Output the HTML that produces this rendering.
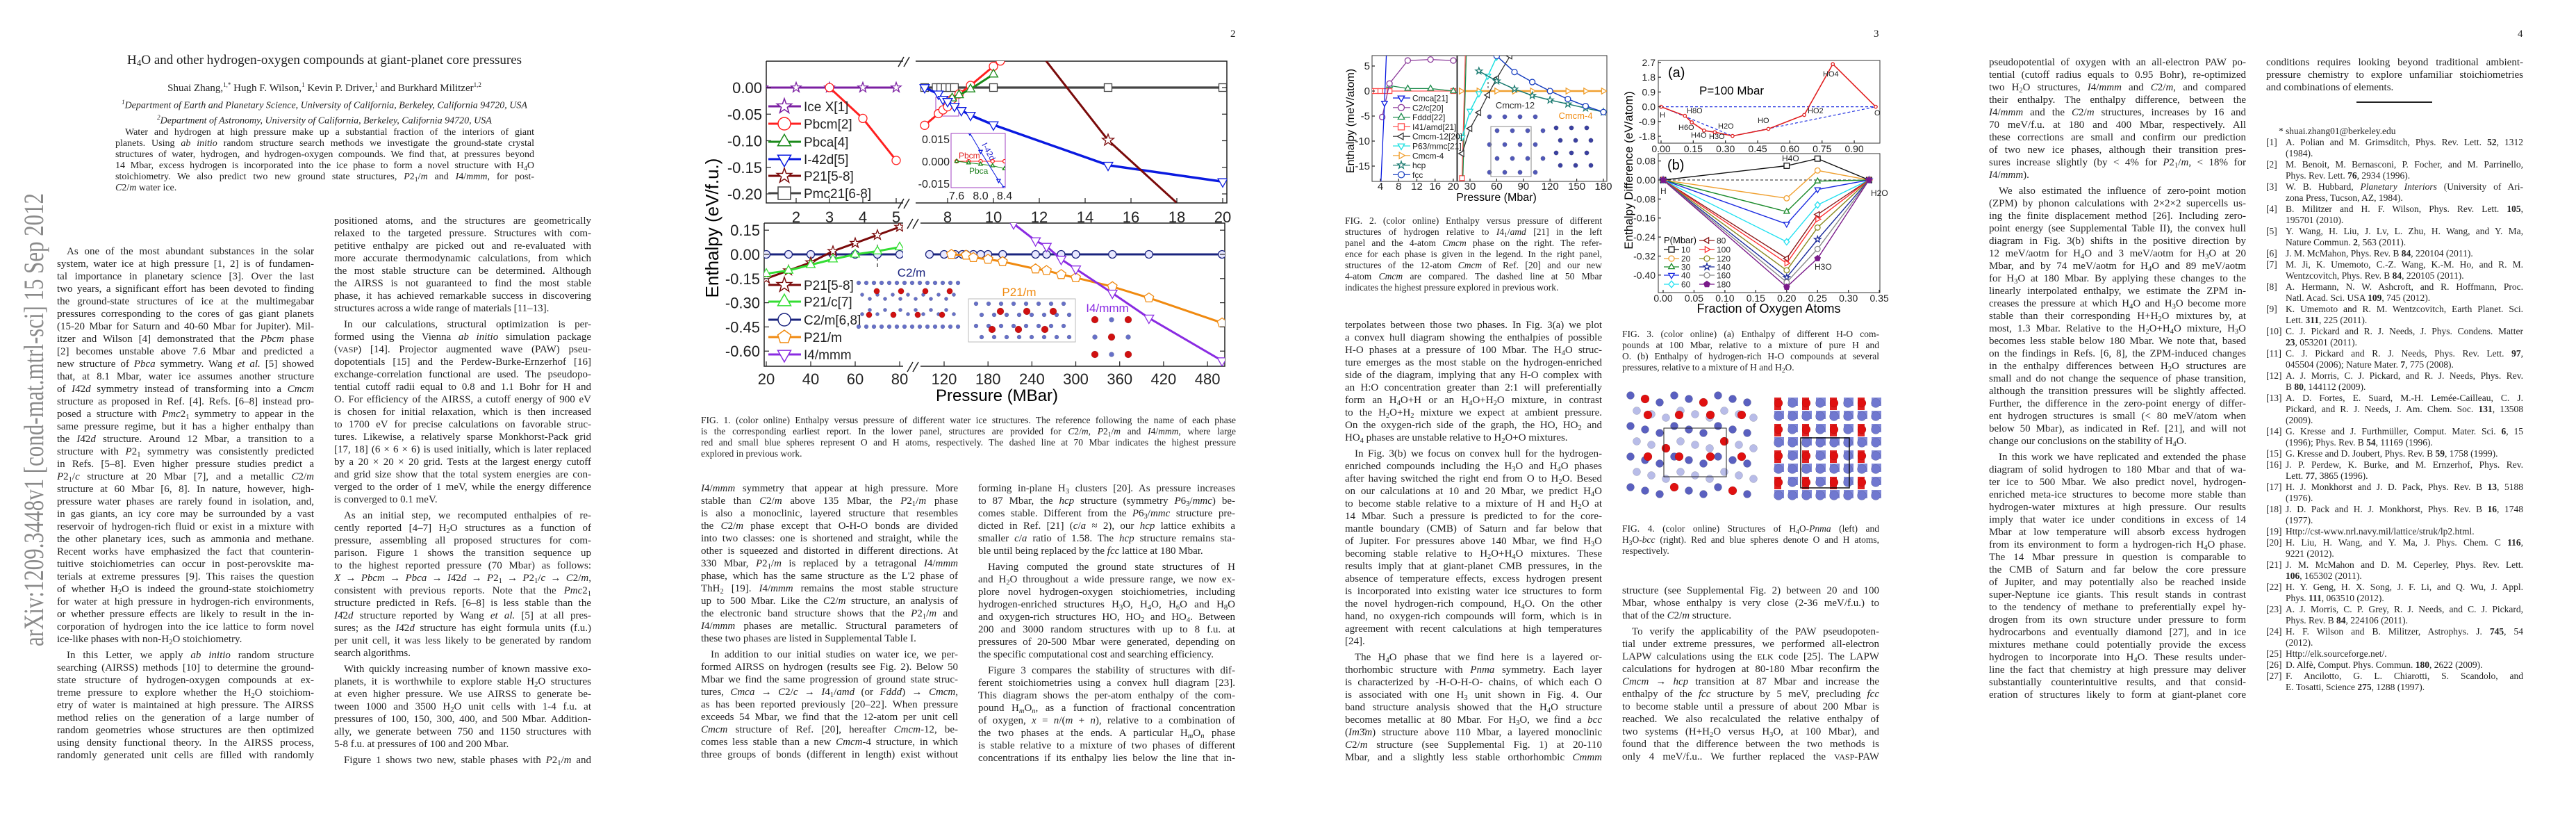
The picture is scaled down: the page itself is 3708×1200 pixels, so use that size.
<!DOCTYPE html>
<html><head><meta charset="utf-8">
<style>
html,body{margin:0;padding:0;background:#fff}
body{width:3708px;height:1200px;position:relative;overflow:hidden;font-family:"Liberation Serif",serif;color:#222}
.col{position:absolute;width:370px;font-size:15px;line-height:18px}
.col>div{height:18px;overflow:hidden;text-align:justify;text-align-last:justify}
.col>div.l{text-align-last:left}
.col>div.i{text-indent:14px}
.col>div.p{margin-top:5px}
.cap{position:absolute;font-size:13.5px;line-height:16px}
.cap>div{height:16px;overflow:hidden;text-align:justify;text-align-last:justify}
.cap>div.l{text-align-last:left}
sub{font-size:70%;vertical-align:-3px;line-height:0}
.pn{position:absolute;top:41px;font-size:15px}
.refs{position:absolute;width:370px;font-size:13.5px;line-height:16px}
.refs>div{height:16px;overflow:hidden;padding-left:28px;position:relative;text-align:justify;text-align-last:justify}
.refs>div.l{text-align-last:left}
.refs .n{position:absolute;left:0;top:0}
svg text{font-family:"Liberation Sans",sans-serif}
</style></head><body>

<!-- PAGE 1 -->
<svg style="position:absolute;left:0;top:0" width="90" height="1200">
<text x="0" y="0" transform="translate(62,930) rotate(-90)" font-family="Liberation Serif" font-size="40" fill="#8a8a8a" textLength="652" lengthAdjust="spacingAndGlyphs" style="font-family:'Liberation Serif',serif">arXiv:1209.3448v1  [cond-mat.mtrl-sci]  15 Sep 2012</text>
</svg>
<div style="position:absolute;left:0;width:934px;top:76px;text-align:center;font-size:19px">H<sub>4</sub>O and other hydrogen-oxygen compounds at giant-planet core pressures</div>
<div style="position:absolute;left:0;width:934px;top:117px;text-align:center;font-size:15px">Shuai Zhang,<sup style="font-size:9px">1,*</sup> Hugh F. Wilson,<sup style="font-size:9px">1</sup> Kevin P. Driver,<sup style="font-size:9px">1</sup> and Burkhard Militzer<sup style="font-size:9px">1,2</sup></div>
<div style="position:absolute;left:0;width:934px;top:139px;text-align:center;font-size:14px;line-height:16px;font-style:italic"><sup style="font-size:9px">1</sup>Department of Earth and Planetary Science, University of California, Berkeley, California 94720, USA<br><sup style="font-size:9px">2</sup>Department of Astronomy, University of California, Berkeley, California 94720, USA</div>
<div class="cap" style="left:166px;top:183px;width:603px;font-size:14px">
<div style="text-indent:14px">Water and hydrogen at high pressure make up a substantial fraction of the interiors of giant</div>
<div>planets. Using <i>ab initio</i> random structure search methods we investigate the ground-state crystal</div>
<div>structures of water, hydrogen, and hydrogen-oxygen compounds. We find that, at pressures beyond</div>
<div>14 Mbar, excess hydrogen is incorporated into the ice phase to form a novel structure with H<sub>4</sub>O</div>
<div>stoichiometry. We also predict two new ground state structures, <i>P</i>2<sub>1</sub>/<i>m</i> and <i>I</i>4/<i>mmm</i>, for post-</div>
<div class="l"><i>C</i>2/<i>m</i> water ice.</div>
</div>

<div class="col" style="left:82px;top:353px">
<div class="i">As one of the most abundant substances in the solar</div>
<div>system, water ice at high pressure [1, 2] is of fundamen-</div>
<div>tal importance in planetary science [3]. Over the last</div>
<div>two years, a significant effort has been devoted to finding</div>
<div>the ground-state structures of ice at the multimegabar</div>
<div>pressures corresponding to the cores of gas giant planets</div>
<div>(15-20 Mbar for Saturn and 40-60 Mbar for Jupiter). Mil-</div>
<div>itzer and Wilson [4] demonstrated that the <i>Pbcm</i> phase</div>
<div>[2] becomes unstable above 7.6 Mbar and predicted a</div>
<div>new structure of <i>Pbca</i> symmetry. Wang <i>et al.</i> [5] showed</div>
<div>that, at 8.1 Mbar, water ice assumes another structure</div>
<div>of <i>I</i>4̄2<i>d</i> symmetry instead of transforming into a <i>Cmcm</i></div>
<div>structure as proposed in Ref. [4]. Refs. [6–8] instead pro-</div>
<div>posed a structure with <i>Pmc</i>2<sub>1</sub> symmetry to appear in the</div>
<div>same pressure regime, but it has a higher enthalpy than</div>
<div>the <i>I</i>4̄2<i>d</i> structure. Around 12 Mbar, a transition to a</div>
<div>structure with <i>P</i>2<sub>1</sub> symmetry was consistently predicted</div>
<div>in Refs. [5–8]. Even higher pressure studies predict a</div>
<div><i>P</i>2<sub>1</sub>/<i>c</i> structure at 20 Mbar [7], and a metallic <i>C</i>2/<i>m</i></div>
<div>structure at 60 Mbar [6, 8]. In nature, however, high-</div>
<div>pressure water phases are rarely found in isolation, and,</div>
<div>in gas giants, an icy core may be surrounded by a vast</div>
<div>reservoir of hydrogen-rich fluid or exist in a mixture with</div>
<div>the other planetary ices, such as ammonia and methane.</div>
<div>Recent works have emphasized the fact that counterin-</div>
<div>tuitive stoichiometries can occur in post-perovskite ma-</div>
<div>terials at extreme pressures [9]. This raises the question</div>
<div>of whether H<sub>2</sub>O is indeed the ground-state stoichiometry</div>
<div>for water at high pressure in hydrogen-rich environments,</div>
<div>or whether pressure effects are likely to result in the in-</div>
<div>corporation of hydrogen into the ice lattice to form novel</div>
<div class="l">ice-like phases with non-H<sub>2</sub>O stoichiometry.</div>
<div class="i p">In this Letter, we apply <i>ab initio</i> random structure</div>
<div>searching (AIRSS) methods [10] to determine the ground-</div>
<div>state structure of hydrogen-oxygen compounds at ex-</div>
<div>treme pressure to explore whether the H<sub>2</sub>O stoichiom-</div>
<div>etry of water is maintained at high pressure. The AIRSS</div>
<div>method relies on the generation of a large number of</div>
<div>random geometries whose structures are then optimized</div>
<div>using density functional theory. In the AIRSS process,</div>
<div>randomly generated unit cells are filled with randomly</div>
</div>

<div class="col" style="left:481px;top:309px">
<div>positioned atoms, and the structures are geometrically</div>
<div>relaxed to the targeted pressure. Structures with com-</div>
<div>petitive enthalpy are picked out and re-evaluated with</div>
<div>more accurate thermodynamic calculations, from which</div>
<div>the most stable structure can be determined. Although</div>
<div>the AIRSS is not guaranteed to find the most stable</div>
<div>phase, it has achieved remarkable success in discovering</div>
<div class="l">structures across a wide range of materials [11–13].</div>
<div class="i p">In our calculations, structural optimization is per-</div>
<div>formed using the Vienna <i>ab initio</i> simulation package</div>
<div>(<span style="font-size:12px">VASP</span>) [14]. Projector augmented wave (PAW) pseu-</div>
<div>dopotentials [15] and the Perdew-Burke-Ernzerhof [16]</div>
<div>exchange-correlation functional are used. The pseudopo-</div>
<div>tential cutoff radii equal to 0.8 and 1.1 Bohr for H and</div>
<div>O. For efficiency of the AIRSS, a cutoff energy of 900 eV</div>
<div>is chosen for initial relaxation, which is then increased</div>
<div>to 1700 eV for precise calculations on favorable struc-</div>
<div>tures. Likewise, a relatively sparse Monkhorst-Pack grid</div>
<div>[17, 18] (6 × 6 × 6) is used initially, which is later replaced</div>
<div>by a 20 × 20 × 20 grid. Tests at the largest energy cutoff</div>
<div>and grid size show that the total system energies are con-</div>
<div>verged to the order of 1 meV, while the energy difference</div>
<div class="l">is converged to 0.1 meV.</div>
<div class="i p">As an initial step, we recomputed enthalpies of re-</div>
<div>cently reported [4–7] H<sub>2</sub>O structures as a function of</div>
<div>pressure, assembling all proposed structures for com-</div>
<div>parison. Figure 1 shows the transition sequence up</div>
<div>to the highest reported pressure (70 Mbar) as follows:</div>
<div><i>X</i> → <i>Pbcm</i> → <i>Pbca</i> → <i>I</i>4̄2<i>d</i> → <i>P</i>2<sub>1</sub> → <i>P</i>2<sub>1</sub>/<i>c</i> → <i>C</i>2/<i>m</i>,</div>
<div>consistent with previous reports. Note that the <i>Pmc</i>2<sub>1</sub></div>
<div>structure predicted in Refs. [6–8] is less stable than the</div>
<div><i>I</i>4̄2<i>d</i> structure reported by Wang <i>et al.</i> [5] at all pres-</div>
<div>sures; as the <i>I</i>4̄2<i>d</i> structure has eight formula units (f.u.)</div>
<div>per unit cell, it was less likely to be generated by random</div>
<div class="l">search algorithms.</div>
<div class="i p">With quickly increasing number of known massive exo-</div>
<div>planets, it is worthwhile to explore stable H<sub>2</sub>O structures</div>
<div>at even higher pressure. We use AIRSS to generate be-</div>
<div>tween 1000 and 3500 H<sub>2</sub>O unit cells with 1-4 f.u. at</div>
<div>pressures of 100, 150, 300, 400, and 500 Mbar. Addition-</div>
<div>ally, we generate between 750 and 1150 structures with</div>
<div class="l">5-8 f.u. at pressures of 100 and 200 Mbar.</div>
<div class="i p">Figure 1 shows two new, stable phases with <i>P</i>2<sub>1</sub>/<i>m</i> and</div>
</div>

<!-- PAGE 2 -->
<div class="pn" style="left:1771px">2</div>
<div class="cap" style="left:1009px;top:597px;width:770px">
<div>FIG. 1. (color online) Enthalpy versus pressure of different water ice structures. The reference following the name of each phase</div>
<div>is the corresponding earliest report. In the lower panel, structures are provided for <i>C</i>2/<i>m</i>, <i>P</i>2<sub>1</sub>/<i>m</i> and <i>I</i>4/<i>mmm</i>, where large</div>
<div>red and small blue spheres represent O and H atoms, respectively. The dashed line at 70 Mbar indicates the highest pressure</div>
<div class="l">explored in previous work.</div>
</div>
<div class="col" style="left:1009px;top:694px">
<div><i>I</i>4/<i>mmm</i> symmetry that appear at high pressure. More</div>
<div>stable than <i>C</i>2/<i>m</i> above 135 Mbar, the <i>P</i>2<sub>1</sub>/<i>m</i> phase</div>
<div>is also a monoclinic, layered structure that resembles</div>
<div>the <i>C</i>2/<i>m</i> phase except that O-H-O bonds are divided</div>
<div>into two classes: one is shortened and straight, while the</div>
<div>other is squeezed and distorted in different directions. At</div>
<div>330 Mbar, <i>P</i>2<sub>1</sub>/<i>m</i> is replaced by a tetragonal <i>I</i>4/<i>mmm</i></div>
<div>phase, which has the same structure as the L'2 phase of</div>
<div>ThH<sub>2</sub> [19]. <i>I</i>4/<i>mmm</i> remains the most stable structure</div>
<div>up to 500 Mbar. Like the <i>C</i>2/<i>m</i> structure, an analysis of</div>
<div>the electronic band structure shows that the <i>P</i>2<sub>1</sub>/<i>m</i> and</div>
<div><i>I</i>4/<i>mmm</i> phases are metallic. Structural parameters of</div>
<div class="l">these two phases are listed in Supplemental Table I.</div>
<div class="i p">In addition to our initial studies on water ice, we per-</div>
<div>formed AIRSS on hydrogen (results see Fig. 2). Below 50</div>
<div>Mbar we find the same progression of ground state struc-</div>
<div>tures, <i>Cmca</i> → <i>C</i>2/<i>c</i> → <i>I</i>4<sub>1</sub>/<i>amd</i> (or <i>Fddd</i>) → <i>Cmcm</i>,</div>
<div>as has been reported previously [20–22]. When pressure</div>
<div>exceeds 54 Mbar, we find that the 12-atom per unit cell</div>
<div><i>Cmcm</i> structure of Ref. [20], hereafter <i>Cmcm</i>-12, be-</div>
<div>comes less stable than a new <i>Cmcm</i>-4 structure, in which</div>
<div>three groups of bonds (different in length) exist without</div>
</div>
<div class="col" style="left:1408px;top:694px">
<div>forming in-plane H<sub>3</sub> clusters [20]. As pressure increases</div>
<div>to 87 Mbar, the <i>hcp</i> structure (symmetry <i>P</i>6<sub>3</sub>/<i>mmc</i>) be-</div>
<div>comes stable. Different from the <i>P</i>6<sub>3</sub>/<i>mmc</i> structure pre-</div>
<div>dicted in Ref. [21] (<i>c</i>/<i>a</i> ≈ 2), our <i>hcp</i> lattice exhibits a</div>
<div>smaller <i>c</i>/<i>a</i> ratio of 1.58. The <i>hcp</i> structure remains sta-</div>
<div class="l">ble until being replaced by the <i>fcc</i> lattice at 180 Mbar.</div>
<div class="i p">Having computed the ground state structures of H</div>
<div>and H<sub>2</sub>O throughout a wide pressure range, we now ex-</div>
<div>plore novel hydrogen-oxygen stoichiometries, including</div>
<div>hydrogen-enriched structures H<sub>3</sub>O, H<sub>4</sub>O, H<sub>6</sub>O and H<sub>8</sub>O</div>
<div>and oxygen-rich structures HO, HO<sub>2</sub> and HO<sub>4</sub>. Between</div>
<div>200 and 3000 random structures with up to 8 f.u. at</div>
<div>pressures of 20-500 Mbar were generated, depending on</div>
<div class="l">the specific computational cost and searching efficiency.</div>
<div class="i p">Figure 3 compares the stability of structures with dif-</div>
<div>ferent stoichiometries using a convex hull diagram [23].</div>
<div>This diagram shows the per-atom enthalpy of the com-</div>
<div>pound H<sub><i>m</i></sub>O<sub><i>n</i></sub>, as a function of fractional concentration</div>
<div>of oxygen, <i>x</i> = <i>n</i>/(<i>m</i> + <i>n</i>), relative to a combination of</div>
<div>the two phases at the ends. A particular H<sub><i>m</i></sub>O<sub><i>n</i></sub> phase</div>
<div>is stable relative to a mixture of two phases of different</div>
<div>concentrations if its enthalpy lies below the line that in-</div>
</div>

<!-- PAGE 3 -->
<div class="pn" style="left:2697px">3</div>
<div class="cap" style="left:1936px;top:310px;width:370px">
<div>FIG. 2. (color online) Enthalpy versus pressure of different</div>
<div>structures of hydrogen relative to <i>I</i>4<sub>1</sub>/<i>amd</i> [21] in the left</div>
<div>panel and the 4-atom <i>Cmcm</i> phase on the right. The refer-</div>
<div>ence for each phase is given in the legend. In the right panel,</div>
<div>structures of the 12-atom <i>Cmcm</i> of Ref. [20] and our new</div>
<div>4-atom <i>Cmcm</i> are compared. The dashed line at 50 Mbar</div>
<div class="l">indicates the highest pressure explored in previous work.</div>
</div>
<div class="cap" style="left:2335px;top:473px;width:370px">
<div>FIG. 3. (color online) (a) Enthalpy of different H-O com-</div>
<div>pounds at 100 Mbar, relative to a mixture of pure H and</div>
<div>O. (b) Enthalpy of hydrogen-rich H-O compounds at several</div>
<div class="l">pressures, relative to a mixture of H and H<sub>2</sub>O.</div>
</div>
<div class="cap" style="left:2335px;top:753px;width:370px">
<div>FIG. 4. (color online) Structures of H<sub>4</sub>O-<i>Pnma</i> (left) and</div>
<div>H<sub>3</sub>O-<i>bcc</i> (right). Red and blue spheres denote O and H atoms,</div>
<div class="l">respectively.</div>
</div>
<div class="col" style="left:1936px;top:459px">
<div>terpolates between those two phases. In Fig. 3(a) we plot</div>
<div>a convex hull diagram showing the enthalpies of possible</div>
<div>H-O phases at a pressure of 100 Mbar. The H<sub>4</sub>O struc-</div>
<div>ture emerges as the most stable on the hydrogen-enriched</div>
<div>side of the diagram, implying that any H-O complex with</div>
<div>an H:O concentration greater than 2:1 will preferentially</div>
<div>form an H<sub>4</sub>O+H or an H<sub>4</sub>O+H<sub>2</sub>O mixture, in contrast</div>
<div>to the H<sub>2</sub>O+H<sub>2</sub> mixture we expect at ambient pressure.</div>
<div>On the oxygen-rich side of the graph, the HO, HO<sub>2</sub> and</div>
<div class="l">HO<sub>4</sub> phases are unstable relative to H<sub>2</sub>O+O mixtures.</div>
<div class="i p">In Fig. 3(b) we focus on convex hull for the hydrogen-</div>
<div>enriched compounds including the H<sub>3</sub>O and H<sub>4</sub>O phases</div>
<div>after having switched the right end from O to H<sub>2</sub>O. Besed</div>
<div>on our calculations at 10 and 20 Mbar, we predict H<sub>4</sub>O</div>
<div>to become stable relative to a mixture of H and H<sub>2</sub>O at</div>
<div>14 Mbar. Such a pressure is predicted to for the core-</div>
<div>mantle boundary (CMB) of Saturn and far below that</div>
<div>of Jupiter. For pressures above 140 Mbar, we find H<sub>3</sub>O</div>
<div>becoming stable relative to H<sub>2</sub>O+H<sub>4</sub>O mixtures. These</div>
<div>results imply that at giant-planet CMB pressures, in the</div>
<div>absence of temperature effects, excess hydrogen present</div>
<div>is incorporated into existing water ice structures to form</div>
<div>the novel hydrogen-rich compound, H<sub>4</sub>O. On the other</div>
<div>hand, no oxygen-rich compounds will form, which is in</div>
<div>agreement with recent calculations at high temperatures</div>
<div class="l">[24].</div>
<div class="i p">The H<sub>4</sub>O phase that we find here is a layered or-</div>
<div>thorhombic structure with <i>Pnma</i> symmetry. Each layer</div>
<div>is characterized by -H-O-H-O- chains, of which each O</div>
<div>is associated with one H<sub>3</sub> unit shown in Fig. 4. Our</div>
<div>band structure analysis showed that the H<sub>4</sub>O structure</div>
<div>becomes metallic at 80 Mbar. For H<sub>3</sub>O, we find a <i>bcc</i></div>
<div>(<i>Im</i>3̄<i>m</i>) structure above 110 Mbar, a layered monoclinic</div>
<div><i>C</i>2/<i>m</i> structure (see Supplemental Fig. 1) at 20-110</div>
<div>Mbar, and a slightly less stable orthorhombic <i>Cmmm</i></div>
</div>
<div class="col" style="left:2335px;top:841px">
<div>structure (see Supplemental Fig. 2) between 20 and 100</div>
<div>Mbar, whose enthalpy is very close (2-36 meV/f.u.) to</div>
<div class="l">that of the <i>C</i>2/<i>m</i> structure.</div>
<div class="i p">To verify the applicability of the PAW pseudopoten-</div>
<div>tial under extreme pressures, we performed all-electron</div>
<div>LAPW calculations using the <span style="font-size:12px">ELK</span> code [25]. The LAPW</div>
<div>calculations for hydrogen at 80-180 Mbar reconfirm the</div>
<div><i>Cmcm</i> → <i>hcp</i> transition at 87 Mbar and increase the</div>
<div>enthalpy of the <i>fcc</i> structure by 5 meV, precluding <i>fcc</i></div>
<div>to become stable until a pressure of about 200 Mbar is</div>
<div>reached. We also recalculated the relative enthalpy of</div>
<div>two systems (H+H<sub>2</sub>O versus H<sub>3</sub>O, at 100 Mbar), and</div>
<div>found that the difference between the two methods is</div>
<div>only 4 meV/f.u.. We further replaced the <span style="font-size:12px">VASP</span>-PAW</div>
</div>

<!-- PAGE 4 -->
<div class="pn" style="left:3624px">4</div>
<div class="col" style="left:2863px;top:81px">
<div>pseudopotential of oxygen with an all-electron PAW po-</div>
<div>tential (cutoff radius equals to 0.95 Bohr), re-optimized</div>
<div>two H<sub>2</sub>O structures, <i>I</i>4/<i>mmm</i> and <i>C</i>2/<i>m</i>, and compared</div>
<div>their enthalpy. The enthalpy difference, between the</div>
<div><i>I</i>4/<i>mmm</i> and the <i>C</i>2/<i>m</i> structures, increases by 16 and</div>
<div>70 meV/f.u. at 180 and 400 Mbar, respectively. All</div>
<div>these corrections are small and confirm our prediction</div>
<div>of two new ice phases, although their transition pres-</div>
<div>sures increase slightly (by &lt; 4% for <i>P</i>2<sub>1</sub>/<i>m</i>, &lt; 18% for</div>
<div class="l"><i>I</i>4/<i>mmm</i>).</div>
<div class="i p">We also estimated the influence of zero-point motion</div>
<div>(ZPM) by phonon calculations with 2×2×2 supercells us-</div>
<div>ing the finite displacement method [26]. Including zero-</div>
<div>point energy (see Supplemental Table II), the convex hull</div>
<div>diagram in Fig. 3(b) shifts in the positive direction by</div>
<div>12 meV/aotm for H<sub>4</sub>O and 3 meV/aotm for H<sub>3</sub>O at 20</div>
<div>Mbar, and by 74 meV/aotm for H<sub>4</sub>O and 89 meV/aotm</div>
<div>for H<sub>3</sub>O at 180 Mbar. By applying these changes to the</div>
<div>linearly interpolated enthalpy, we estimate the ZPM in-</div>
<div>creases the pressure at which H<sub>4</sub>O and H<sub>3</sub>O become more</div>
<div>stable than their corresponding H+H<sub>2</sub>O mixtures by, at</div>
<div>most, 1.3 Mbar. Relative to the H<sub>2</sub>O+H<sub>4</sub>O mixture, H<sub>3</sub>O</div>
<div>becomes less stable below 180 Mbar. We note that, based</div>
<div>on the findings in Refs. [6, 8], the ZPM-induced changes</div>
<div>in the enthalpy differences between H<sub>2</sub>O structures are</div>
<div>small and do not change the sequence of phase transition,</div>
<div>although the transition pressures will be slightly affected.</div>
<div>Further, the difference in the zero-point energy of differ-</div>
<div>ent hydrogen structures is small (&lt; 80 meV/atom when</div>
<div>below 50 Mbar), as indicated in Ref. [21], and will not</div>
<div class="l">change our conclusions on the stability of H<sub>4</sub>O.</div>
<div class="i p">In this work we have replicated and extended the phase</div>
<div>diagram of solid hydrogen to 180 Mbar and that of wa-</div>
<div>ter ice to 500 Mbar. We also predict novel, hydrogen-</div>
<div>enriched meta-ice structures to become more stable than</div>
<div>hydrogen-water mixtures at high pressure. Our results</div>
<div>imply that water ice under conditions in excess of 14</div>
<div>Mbar at low temperature will absorb excess hydrogen</div>
<div>from its environment to form a hydrogen-rich H<sub>4</sub>O phase.</div>
<div>The 14 Mbar pressure in question is comparable to</div>
<div>the CMB of Saturn and far below the core pressure</div>
<div>of Jupiter, and may potentially also be reached inside</div>
<div>super-Neptune ice giants. This result stands in contrast</div>
<div>to the tendency of methane to preferentially expel hy-</div>
<div>drogen from its own structure under pressure to form</div>
<div>hydrocarbons and eventually diamond [27], and in ice</div>
<div>mixtures methane could potentially provide the excess</div>
<div>hydrogen to incorporate into H<sub>4</sub>O. These results under-</div>
<div>line the fact that chemistry at high pressure may deliver</div>
<div>substantially counterintuitive results, and that consid-</div>
<div>eration of structures likely to form at giant-planet core</div>
</div>
<div class="col" style="left:3262px;top:81px">
<div>conditions requires looking beyond traditional ambient-</div>
<div>pressure chemistry to explore unfamiliar stoichiometries</div>
<div class="l">and combinations of elements.</div>
</div>
<div style="position:absolute;left:3392px;top:146px;width:109px;height:2px;background:#222"></div>
<div class="refs" style="left:3262px;top:181px">
<div class="l"><span class="n" style="left:18px">*</span>shuai.zhang01@berkeley.edu</div>
<div><span class="n">[1]</span>A. Polian and M. Grimsditch, Phys. Rev. Lett. <b>52</b>, 1312</div>
<div class="l">(1984).</div>
<div><span class="n">[2]</span>M. Benoit, M. Bernasconi, P. Focher, and M. Parrinello,</div>
<div class="l">Phys. Rev. Lett. <b>76</b>, 2934 (1996).</div>
<div><span class="n">[3]</span>W. B. Hubbard, <i>Planetary Interiors</i> (University of Ari-</div>
<div class="l">zona Press, Tucson, AZ, 1984).</div>
<div><span class="n">[4]</span>B. Militzer and H. F. Wilson, Phys. Rev. Lett. <b>105</b>,</div>
<div class="l">195701 (2010).</div>
<div><span class="n">[5]</span>Y. Wang, H. Liu, J. Lv, L. Zhu, H. Wang, and Y. Ma,</div>
<div class="l">Nature Commun. <b>2</b>, 563 (2011).</div>
<div class="l"><span class="n">[6]</span>J. M. McMahon, Phys. Rev. B <b>84</b>, 220104 (2011).</div>
<div><span class="n">[7]</span>M. Ji, K. Umemoto, C.-Z. Wang, K.-M. Ho, and R. M.</div>
<div class="l">Wentzcovitch, Phys. Rev. B <b>84</b>, 220105 (2011).</div>
<div><span class="n">[8]</span>A. Hermann, N. W. Ashcroft, and R. Hoffmann, Proc.</div>
<div class="l">Natl. Acad. Sci. USA <b>109</b>, 745 (2012).</div>
<div><span class="n">[9]</span>K. Umemoto and R. M. Wentzcovitch, Earth Planet. Sci.</div>
<div class="l">Lett. <b>311</b>, 225 (2011).</div>
<div><span class="n">[10]</span>C. J. Pickard and R. J. Needs, J. Phys. Condens. Matter</div>
<div class="l"><b>23</b>, 053201 (2011).</div>
<div><span class="n">[11]</span>C. J. Pickard and R. J. Needs, Phys. Rev. Lett. <b>97</b>,</div>
<div class="l">045504 (2006); Nature Mater. <b>7</b>, 775 (2008).</div>
<div><span class="n">[12]</span>A. J. Morris, C. J. Pickard, and R. J. Needs, Phys. Rev.</div>
<div class="l">B <b>80</b>, 144112 (2009).</div>
<div><span class="n">[13]</span>A. D. Fortes, E. Suard, M.-H. Lemée-Cailleau, C. J.</div>
<div>Pickard, and R. J. Needs, J. Am. Chem. Soc. <b>131</b>, 13508</div>
<div class="l">(2009).</div>
<div><span class="n">[14]</span>G. Kresse and J. Furthmüller, Comput. Mater. Sci. <b>6</b>, 15</div>
<div class="l">(1996); Phys. Rev. B <b>54</b>, 11169 (1996).</div>
<div class="l"><span class="n">[15]</span>G. Kresse and D. Joubert, Phys. Rev. B <b>59</b>, 1758 (1999).</div>
<div><span class="n">[16]</span>J. P. Perdew, K. Burke, and M. Ernzerhof, Phys. Rev.</div>
<div class="l">Lett. <b>77</b>, 3865 (1996).</div>
<div><span class="n">[17]</span>H. J. Monkhorst and J. D. Pack, Phys. Rev. B <b>13</b>, 5188</div>
<div class="l">(1976).</div>
<div><span class="n">[18]</span>J. D. Pack and H. J. Monkhorst, Phys. Rev. B <b>16</b>, 1748</div>
<div class="l">(1977).</div>
<div class="l"><span class="n">[19]</span>Http://cst-www.nrl.navy.mil/lattice/struk/lp2.html.</div>
<div><span class="n">[20]</span>H. Liu, H. Wang, and Y. Ma, J. Phys. Chem. C <b>116</b>,</div>
<div class="l">9221 (2012).</div>
<div><span class="n">[21]</span>J. M. McMahon and D. M. Ceperley, Phys. Rev. Lett.</div>
<div class="l"><b>106</b>, 165302 (2011).</div>
<div><span class="n">[22]</span>H. Y. Geng, H. X. Song, J. F. Li, and Q. Wu, J. Appl.</div>
<div class="l">Phys. <b>111</b>, 063510 (2012).</div>
<div><span class="n">[23]</span>A. J. Morris, C. P. Grey, R. J. Needs, and C. J. Pickard,</div>
<div class="l">Phys. Rev. B <b>84</b>, 224106 (2011).</div>
<div><span class="n">[24]</span>H. F. Wilson and B. Militzer, Astrophys. J. <b>745</b>, 54</div>
<div class="l">(2012).</div>
<div class="l"><span class="n">[25]</span>Http://elk.sourceforge.net/.</div>
<div class="l"><span class="n">[26]</span>D. Alfè, Comput. Phys. Commun. <b>180</b>, 2622 (2009).</div>
<div><span class="n">[27]</span>F. Ancilotto, G. L. Chiarotti, S. Scandolo, and</div>
<div class="l">E. Tosatti, Science <b>275</b>, 1288 (1997).</div>
</div>

<!-- CHARTS -->
<svg id="charts" width="3708" height="1200" style="position:absolute;left:0;top:0">
<defs>
<clipPath id="cU1"><rect x="1103" y="88" width="196" height="204"/></clipPath>
<clipPath id="cU2"><rect x="1310" y="88" width="456" height="204"/></clipPath>
<clipPath id="cL1"><rect x="1100" y="321" width="200" height="206"/></clipPath>
<clipPath id="cL2"><rect x="1325" y="321" width="438" height="206"/></clipPath>
<clipPath id="cIn"><rect x="1369" y="192" width="78" height="78"/></clipPath>
<clipPath id="cF2L"><rect x="1975" y="80" width="122" height="181"/></clipPath>
<clipPath id="cF2R"><rect x="2098" y="80" width="215" height="181"/></clipPath>
<clipPath id="cF3a"><rect x="2387" y="87" width="319" height="119"/></clipPath>
<clipPath id="cF3b"><rect x="2387" y="221" width="319" height="200"/></clipPath>
</defs>
<g fill="none" stroke="#222" stroke-width="1.5">
<path d="M1103 88 H1300 M1318 88 H1766 V292 H1318 M1300 292 H1103 V88"/>
<path d="M1100 321 H1300 M1325 321 H1763 V527 H1325 M1300 527 H1100 V321"/>
<path d="M1293 96 l8 -14 M1301 96 l8 -14 M1293 300 l8 -14 M1301 300 l8 -14 M1306 329 l8 -14 M1314 329 l8 -14 M1306 535 l8 -14 M1314 535 l8 -14"/>
<rect x="1369" y="192" width="78" height="78" stroke="#a040c0" stroke-width="1"/>
<rect x="1347" y="140" width="33" height="27" stroke="#a040c0" stroke-width="1"/>
</g>
<text transform="translate(1034,328) rotate(-90)" text-anchor="middle" font-size="26">Enthalpy (eV/f.u.)</text>
<text x="1435" y="577" text-anchor="middle" font-size="24">Pressure (MBar)</text>
<text transform="translate(1413,208) rotate(62)" font-size="12" fill="#1a1ad0">I-42d</text>
<text x="1380" y="228" font-size="12" fill="#e02020">Pbcm</text>
<text x="1395" y="250" font-size="12" fill="#208020">Pbca</text>
<text x="1312" y="398" text-anchor="middle" font-size="17" fill="#1a237e">C2/m</text>
<text x="1467" y="426" text-anchor="middle" font-size="17" fill="#f08a10">P21/m</text>
<text x="1594" y="449" text-anchor="middle" font-size="17" fill="#8a2be2">I4/mmm</text>
<line x1="1263" y1="352" x2="1263" y2="386" stroke="#222" stroke-dasharray="5,4" stroke-width="1.2"/>

<g fill="none" stroke="#333" stroke-width="1">
<rect x="1975" y="80" width="122" height="181"/>
<rect x="2098" y="80" width="215" height="181"/>
</g>
<text transform="translate(1949,174) rotate(-90)" text-anchor="middle" font-size="16">Enthalpy (meV/atom)</text>
<text x="2154" y="289" text-anchor="middle" font-size="16">Pressure (Mbar)</text>
<text x="2181" y="156" text-anchor="middle" font-size="13" fill="#333">Cmcm-12</text>
<text x="2268" y="171" text-anchor="middle" font-size="13" fill="#f08a10">Cmcm-4</text>
<line x1="2142" y1="118" x2="2142" y2="140" stroke="#333" stroke-dasharray="3,3"/>

<g fill="none" stroke="#333" stroke-width="1">
<rect x="2387" y="87" width="319" height="119"/>
<rect x="2387" y="221" width="319" height="200"/>
</g>
<text transform="translate(2350,245) rotate(-90)" text-anchor="middle" font-size="17">Enthalpy Difference (eV/atom)</text>
<text x="2546" y="450" text-anchor="middle" font-size="18">Fraction of Oxygen Atoms</text>
<text x="2401" y="111" font-size="20">(a)</text>
<text x="2446" y="136" font-size="17">P=100 Mbar</text>
<text x="2400" y="244" font-size="20">(b)</text>
<text x="2395" y="350" font-size="13">P(Mbar)</text>
</svg>

<script>
// ===== Figure 1 data (upper panel) =====
const iceX_x=[1,2,3,4,5];
const iceX_y=[0,0,0,0,0];
const pbcmL_x=[3,4,5];
const pbcmL_y=[0,-0.058,-0.137];
const pbcmR_x=[7,7.6,7.8,8.0,8.2,8.5,9,10,10.3];
const pbcmR_y=[-0.071,-0.049,-0.042,-0.036,-0.022,-0.012,0.004,0.04,0.05];
const pbca_x=[8.2,8.5,9,10];
const pbca_y=[-0.02,-0.014,-0.003,0.025];
const i42d_x=[7,7.6,7.8,8.0,8.3,8.6,9,10,15,20];
const i42d_y=[0,-0.012,-0.022,-0.026,-0.035,-0.043,-0.052,-0.07,-0.146,-0.177];
const p21U_x=[12.3,15,18];
const p21U_y=[0.05,-0.099,-0.217];
const pmc21_x=[7,7.5,7.7,7.9,8.1,8.3,10,15,20];
const pmc21_y=[0,0,0,0,0,0,0,0,0];
const f1uYTicks=[0,-0.05,-0.10,-0.15,-0.20];
const f1uYLabels=['0.00','-0.05','-0.10','-0.15','-0.20'];
const f1uXTicksL=[2,3,4,5];
const f1uXTicksR=[8,10,12,14,16,18,20];
// inset
const inPbcm_x=[7.6,7.8,8.0,8.2,8.4];
const inPbcm_y=[0,0,0,0,0];
const inPbca_x=[7.6,7.8,8.0,8.2,8.4];
const inPbca_y=[0,-0.001,-0.002,-0.003,-0.005];
const inI42d_x=[7.82,8.0,8.3,8.4];
const inI42d_y=[0.019,0.0066,-0.013,-0.018];
const inYLabels=['0.015','0.000','-0.015'];
const inYTicks=[0.015,0,-0.015];
const inXTicks=[7.6,8.0,8.4];
// ===== Figure 1 data (lower panel) =====
const c2mL_x=[20,30,40,50,60,70,80];
const c2mL_y=[0,0,0,0,0,0,0];
const c2mR_x=[100,120,135,145,150,160,170,180,200,245,260,280,300,350,400,500];
const c2mR_y=[0,0,0,0,0,0,0,0,0,0,0,0,0,0,0,0];
const p21L_x=[20,30,40,50,60,70,80];
const p21L_y=[-0.15,-0.1,-0.05,0.02,0.07,0.12,0.17];
const p21c_x=[20,30,40,50,60,70,80];
const p21c_y=[-0.12,-0.1,-0.065,-0.03,0.0,0.02,0.045];
const p21m_x=[130,150,160,180,200,245,260,280,300,350,400,500];
const p21m_y=[0,-0.005,-0.02,-0.03,-0.045,-0.09,-0.1,-0.125,-0.145,-0.2,-0.27,-0.425];
const i4mmm_x=[215,245,260,280,300,350,400,500];
const i4mmm_y=[0.19,0.085,0.05,-0.03,-0.09,-0.24,-0.395,-0.66];
const f1lYTicks=[0.15,0,-0.15,-0.30,-0.45,-0.60];
const f1lYLabels=['0.15','0.00','-0.15','-0.30','-0.45','-0.60'];
const f1lXTicksL=[20,40,60,80];
const f1lXTicksR=[120,180,240,300,360,420,480];
// ===== Figure 2 data =====
const cmca_x=[4.1,4.9,5.4];
const cmca_y=[-18.5,-2.4,9.5];
const c2c_x=[4.4,6,10,15,20];
const c2c_y=[-5.2,1.5,6.1,6.3,6.1];
const fddd_x=[6,10,15,20];
const fddd_y=[1.1,0.5,0.5,0];
const i41L_x=[2,3,4,5,6,20];
const i41L_y=[0,0,0,0,0,0];
const i41R_x=[21,25];
const i41R_y=[-17.4,9];
const fdddR_x=[22,26];
const fdddR_y=[-17,9];
const p63_x=[21,30,40,50,60];
const p63_y=[-9.3,-4.0,-0.5,3,6.8];
const cmcm12_x=[21,30,40,50,60,75];
const cmcm12_y=[-12.5,-7.5,-4.3,-0.8,2.5,7];
const cmcm4_x=[20,40,60,80,100,120,140,160,180];
const cmcm4_y=[0,0,0,0,0,0,0,0,0];
const hcp_x=[40,60,80,100,120,140,160,180];
const hcp_y=[4,2,0.4,-0.9,-1.8,-2.6,-3.4,-4.2];
const fcc_x=[60,80,100,120,140,160,180];
const fcc_y=[7,3.8,1.8,0,-1.6,-3,-4.2];
const f2YTicks=[5,0,-5,-10,-15];
const f2XTicksL=[4,8,12,16,20];
const f2XTicksR=[30,60,90,120,150,180];
// ===== Figure 3 data =====
const f3a_x=[0,0.111,0.143,0.2,0.25,0.333,0.5,0.667,0.8,1];
const f3a_y=[0,-0.55,-0.95,-1.45,-1.55,-1.78,-1.35,-0.5,2.6,0];
const hull_x=[0,0.333,1];
const hull_y=[0,-1.78,0];
const f3aYTicks=[2.7,1.8,0.9,0.0,-0.9,-1.8];
const f3aYLabels=['2.7','1.8','0.9','0.0','-0.9','-1.8'];
const f3aXTicks=[0,0.15,0.3,0.45,0.6,0.75,0.9];
const f3aXLabels=['0.00','0.15','0.30','0.45','0.60','0.75','0.90'];
const frac_x=[0,0.2,0.25,0.3333];
const p10=[0,0.06,0.09,0];
const p20=[0,-0.077,0.04,0];
const p30=[0,-0.133,-0.005,0];
const p40=[0,-0.185,-0.04,0];
const p60=[0,-0.26,-0.105,0];
const p80=[0,-0.33,-0.145,0];
const p100=[0,-0.35,-0.165,0];
const p120=[0,-0.38,-0.2,0];
const p140=[0,-0.41,-0.25,0];
const p160=[0,-0.43,-0.29,0];
const p180=[0,-0.45,-0.33,0];
const pressures=['10','20','30','40','60','80','100','120','140','160','180'];
const f3bYTicks=[0.08,0,-0.08,-0.16,-0.24,-0.32,-0.40];
const f3bYLabels=['0.08','0.00','-0.08','-0.16','-0.24','-0.32','-0.40'];
const f3bXTicks=[0,0.05,0.1,0.15,0.2,0.25,0.3,0.35];
const f3bXLabels=['0.00','0.05','0.10','0.15','0.20','0.25','0.30','0.35'];

const NS='http://www.w3.org/2000/svg';
const svg=document.getElementById('charts');
function mk(tag,a,parent){const e=document.createElementNS(NS,tag);for(const k in a)e.setAttribute(k,a[k]);(parent||svg).appendChild(e);return e;}

// scales
const u1=v=>1098+(v-1)*48, u2=v=>1331+(v-7)*33, uy=v=>126-v*765;
const l1=v=>1103+(v-20)*3.2, l2=v=>1359+(v-120)*1.053, ly=v=>366-v*232;
const ix=v=>1377+(v-7.6)*86.3, iy=v=>232-v*2133;
const f2l=v=>1987+(v-4)*6.56, f2r=v=>2116+(v-30)*1.28, f2y=v=>131-v*7.2;
const f3ax=v=>2391+v*309, f3ay=v=>153.6-v*23.6;
const f3bx=v=>2394+v*889, f3by=v=>259-v*342;

function shapeEl(shape,cx,cy,r,color,fill,sw){
  let e;
  const s=sw||1.3;
  if(shape==='circle'){e=mk('circle',{cx:cx,cy:cy,r:r,fill:fill,stroke:color,'stroke-width':s});}
  else if(shape==='square'){e=mk('rect',{x:cx-r,y:cy-r,width:2*r,height:2*r,fill:fill,stroke:color,'stroke-width':s});}
  else {
    let pts=[];
    if(shape==='up'){pts=[[0,-1.2],[1.05,0.65],[-1.05,0.65]];}
    else if(shape==='down'){pts=[[0,1.2],[1.05,-0.65],[-1.05,-0.65]];}
    else if(shape==='left'){pts=[[-1.2,0],[0.65,-1.05],[0.65,1.05]];}
    else if(shape==='right'){pts=[[1.2,0],[-0.65,-1.05],[-0.65,1.05]];}
    else if(shape==='diamond'){pts=[[0,-1.2],[1,0],[0,1.2],[-1,0]];}
    else if(shape==='pent'){for(let k=0;k<5;k++){const a=-Math.PI/2+k*2*Math.PI/5;pts.push([Math.cos(a)*1.1,Math.sin(a)*1.1]);}}
    else if(shape==='star'){for(let k=0;k<10;k++){const a=-Math.PI/2+k*Math.PI/5;const rr=k%2?0.5:1.25;pts.push([Math.cos(a)*rr,Math.sin(a)*rr]);}}
    e=mk('polygon',{points:pts.map(p=>(cx+p[0]*r).toFixed(1)+','+(cy+p[1]*r).toFixed(1)).join(' '),fill:fill,stroke:color,'stroke-width':s});
  }
  return e;
}
function series(xs,ys,fx,fy,color,w,shape,r,clip,name,fill,dash){
  const g=mk('g',{'clip-path':clip?'url(#'+clip+')':''});
  
  
  const d=xs.map((x,i)=>(i?'L':'M')+fx(x).toFixed(1)+' '+fy(ys[i]).toFixed(1)).join(' ');
  const p=mk('path',{d:d,fill:'none',stroke:color,'stroke-width':w,'stroke-dasharray':dash||'none'},g);
  
  
  if(shape){
    xs.forEach((x,i)=>{
      const m=shapeEl(shape,fx(x),fy(ys[i]),r,color,fill||'#fff');
      g.appendChild(m);
      
      
    });
  }
  return g;
}
function text(x,y,s,size,anchor,color,name){
  const t=mk('text',{x:x,y:y,'font-size':size,'text-anchor':anchor||'start',fill:color||'#222'});
  t.textContent=s;
  
  
  return t;
}
function tickMark(x1,y1,x2,y2,name){
  const l=mk('line',{x1:x1,y1:y1,x2:x2,y2:y2,stroke:'#222','stroke-width':1.2});
  
  
}

// ---- Fig 1 upper ----
series(iceX_x,iceX_y,u1,uy,'#7b1fa2',3,'star',6,'cU1','ice-x-series');
series(pbcmL_x,pbcmL_y,u1,uy,'#ff2020',3,'circle',6,'cU1','pbcm-series-left');
series(pmc21_x,pmc21_y,u2,uy,'#444',3.2,'square',5.5,'cU2','pmc21-series');
series(pbcmR_x,pbcmR_y,u2,uy,'#ff2020',3,'circle',6,'cU2','pbcm-series-right');
series(pbca_x,pbca_y,u2,uy,'#1a8a1a',3,'up',6,'cU2','pbca-series');
series(i42d_x,i42d_y,u2,uy,'#0a1ae0',3.5,'down',6.5,'cU2','i42d-series');
series(p21U_x,p21U_y,u2,uy,'#7a0a0a',3,null,0,'cU2','p21-series-upper');
const st=shapeEl('star',u2(15),uy(-0.099),7,'#7a0a0a','#fff');


f1uYTicks.forEach((v,i)=>{text(1097,uy(v)+8,f1uYLabels[i],22,'end','#222','fig1-upper-y-tick-label');tickMark(1103,uy(v),1110,uy(v),'fig1-upper-y-tick');tickMark(1759,uy(v),1766,uy(v),'fig1-upper-y-tick-right');});
f1uXTicksL.forEach(v=>{text(u1(v),320,String(v),22,'middle','#222','fig1-upper-x-tick-label');tickMark(u1(v),292,u1(v),285,'fig1-upper-x-tick');});
f1uXTicksR.forEach(v=>{text(u2(v),320,String(v),22,'middle','#222','fig1-upper-x-tick-label');tickMark(u2(v),292,u2(v),285,'fig1-upper-x-tick');});
// inset
series(inPbcm_x,inPbcm_y,ix,iy,'#ff2020',1,'circle',2.5,'cIn','inset-pbcm-series');
series(inPbca_x,inPbca_y,ix,iy,'#1a8a1a',1,'up',2.5,'cIn','inset-pbca-series');
series(inI42d_x,inI42d_y,ix,iy,'#0a1ae0',1,'down',2.5,'cIn','inset-i42d-series');
inYTicks.forEach((v,i)=>text(1367,iy(v)+6,inYLabels[i],16,'end','#222','inset-y-tick-label'));
inXTicks.forEach(v=>text(ix(v),287,v.toFixed(1),16,'middle','#222','inset-x-tick-label'));
// upper legend
const legU=[['Ice X[1]','#7b1fa2','star'],['Pbcm[2]','#ff2020','circle'],['Pbca[4]','#1a8a1a','up'],['I-42d[5]','#0a1ae0','down'],['P21[5-8]','#7a0a0a','star'],['Pmc21[6-8]','#444','square']];
const legUY=[153,178,204,229,253,278];
legU.forEach((e,i)=>{
  tickMark(1106,legUY[i],1153,legUY[i],'legend-line');
  svg.lastChild.setAttribute('stroke',e[1]);svg.lastChild.setAttribute('stroke-width',3);
  const m=shapeEl(e[2],1129,legUY[i],9,e[1],'#fff',1.5);
  
  
  text(1157,legUY[i]+7,e[0],19,'start','#222','legend-entry');
});
// ---- Fig 1 lower ----
series(c2mL_x,c2mL_y,l1,ly,'#1a237e',3,'circle',5.5,'cL1','c2m-series-left','#e8e8ff');
series(c2mR_x,c2mR_y,l2,ly,'#1a237e',3,'circle',5.5,'cL2','c2m-series-right','#e8e8ff');
series(p21L_x,p21L_y,l1,ly,'#7a0a0a',3,'star',6,'cL1','p21-series-lower');
series(p21c_x,p21c_y,l1,ly,'#33dd33',3,'up',6,'cL1','p21c-series');
series(p21m_x,p21m_y,l2,ly,'#f08a10',3,'pent',6.5,'cL2','p21m-series');
series(i4mmm_x,i4mmm_y,l2,ly,'#8a2be2',3,'down',6.5,'cL2','i4mmm-series');
f1lYTicks.forEach((v,i)=>{text(1094,ly(v)+8,f1lYLabels[i],22,'end','#222','fig1-lower-y-tick-label');tickMark(1100,ly(v),1107,ly(v),'fig1-lower-y-tick');tickMark(1756,ly(v),1763,ly(v),'fig1-lower-y-tick-right');});
f1lXTicksL.forEach(v=>{text(l1(v),553,String(v),22,'middle','#222','fig1-lower-x-tick-label');tickMark(l1(v),527,l1(v),520,'fig1-lower-x-tick');});
f1lXTicksR.forEach(v=>{text(l2(v),553,String(v),22,'middle','#222','fig1-lower-x-tick-label');tickMark(l2(v),527,l2(v),520,'fig1-lower-x-tick');});
const legL=[['P21[5-8]','#7a0a0a','star'],['P21/c[7]','#33dd33','up'],['C2/m[6,8]','#1a237e','circle'],['P21/m','#f08a10','pent'],['I4/mmm','#8a2be2','down']];
const legLY=[410,434,460,485,510];
legL.forEach((e,i)=>{
  tickMark(1106,legLY[i],1153,legLY[i],'legend-line');
  svg.lastChild.setAttribute('stroke',e[1]);svg.lastChild.setAttribute('stroke-width',3);
  const m=shapeEl(e[2],1129,legLY[i],9,e[1],'#fff',1.5);
  
  
  text(1157,legLY[i]+7,e[0],19,'start','#222','legend-entry');
});
// structure pictures (decorative)
function atom(cx,cy,r,c,name){const a=mk('circle',{cx:cx,cy:cy,r:r,fill:c,stroke:'rgba(0,0,0,0.25)','stroke-width':0.5});}
for(let k=0;k<14;k++){atom(1236+k*11,407,3,'#6670c8','c2m-h-atom');atom(1236+k*11,470,3,'#6670c8','c2m-h-atom');}
for(let k=0;k<13;k++){atom(1241+k*11,424+(k%2)*6,2.6,'#6670c8','c2m-h-atom');atom(1241+k*11,452-(k%2)*6,2.6,'#6670c8','c2m-h-atom');}
for(let k=0;k<4;k++){atom(1262+k*35,419,4.2,'#d01010','c2m-o-atom');atom(1251+k*35,453,4.2,'#d01010','c2m-o-atom');}
{const r=mk('rect',{x:1394,y:430,width:154,height:62,fill:'none',stroke:'#bbb'});}
for(let row=0;row<4;row++)for(let k=0;k<8;k++){atom(1405+k*18+(row%2)*8,437+row*16,3,'#6670c8','p21m-h-atom');}
for(let k=0;k<3;k++){atom(1440+k*38,448,5,'#d01010','p21m-o-atom');atom(1428+k*38,474,5,'#d01010','p21m-o-atom');}
for(let r=0;r<3;r++)for(let c=0;c<3;c++){const red=(r+c)%2===0;atom(1576+c*24,460+r*25,red?5:3.5,red?'#d01010':'#6670c8','i4mmm-atom');}

// ---- Fig 2 ----
series(i41L_x,i41L_y,f2l,f2y,'#ff5050',1.3,'square',3.5,'cF2L','i41amd-series');
series(fddd_x,fddd_y,f2l,f2y,'#1a8a4a',1.3,'up',4,'cF2L','fddd-series');
series(c2c_x,c2c_y,f2l,f2y,'#8b3a9a',1.3,'circle',4,'cF2L','c2c-series');
series(cmca_x,cmca_y,f2l,f2y,'#0a1ae0',1.3,'down',4,'cF2L','cmca-series');
series(cmcm4_x,cmcm4_y,f2r,f2y,'#f0a030',2.5,'right',4,'cF2R','cmcm4-series');
series(i41R_x,i41R_y,f2r,f2y,'#ff5050',1.3,'square',3.5,'cF2R','i41amd-series-right');
series(fdddR_x,fdddR_y,f2r,f2y,'#1a8a4a',1.3,null,0,'cF2R','fddd-series-right');
series(p63_x,p63_y,f2r,f2y,'#20e0e0',1.5,'down',4,'cF2R','p63mmc-series');
series(cmcm12_x,cmcm12_y,f2r,f2y,'#333',1.3,'left',4,'cF2R','cmcm12-series');
series(hcp_x,hcp_y,f2r,f2y,'#1a7a70',1.5,'star',4,'cF2R','hcp-series');
series(fcc_x,fcc_y,f2r,f2y,'#1a40c0',1.5,'circle',4,'cF2R','fcc-series');
f2YTicks.forEach(v=>{text(1972,f2y(v)+5,String(v),15,'end','#222','fig2-y-tick-label');tickMark(1975,f2y(v),1979,f2y(v),'fig2-y-tick');});
f2XTicksL.forEach(v=>{text(f2l(v),273,String(v),15,'middle','#222','fig2-x-tick-label');tickMark(f2l(v),261,f2l(v),257,'fig2-x-tick');});
f2XTicksR.forEach(v=>{text(f2r(v),273,String(v),15,'middle','#222','fig2-x-tick-label');tickMark(f2r(v),261,f2r(v),257,'fig2-x-tick');});
const leg2=[['Cmca[21]','#0a1ae0','down'],['C2/c[20]','#8b3a9a','circle'],['Fddd[22]','#1a8a4a','up'],['I41/amd[21]','#ff5050','square'],['Cmcm-12[20]','#333','left'],['P63/mmc[21]','#20e0e0','down'],['Cmcm-4','#f0a030','right'],['hcp','#1a7a70','star'],['fcc','#1a40c0','circle']];
leg2.forEach((e,i)=>{
  const y=141+i*13.8;
  tickMark(2005,y,2030,y,'fig2-legend-line');
  svg.lastChild.setAttribute('stroke',e[1]);
  const m=shapeEl(e[2],2017,y,4.5,e[1],'#fff');
  
  
  text(2033,y+4.5,e[0],12,'start','#222','fig2-legend-entry');
});
for(let r=0;r<5;r++)for(let c=0;c<4;c++){atom(2144+c*22+(r%2)*11,168+r*20,3.2,'#5058b8','cmcm12-atom');}
{const r=mk('rect',{x:2146,y:182,width:58,height:72,fill:'none',stroke:'#888'});}
for(let r=0;r<4;r++)for(let c=0;c<3;c++){atom(2240+c*22+(r%2)*6,184+r*18,3.2,'#3a40a0','cmcm4-atom');}

// ---- Fig 3a ----
series([0,1],[0,0],f3ax,f3ay,'#2030e0',1.2,null,0,'cF3a','fig3a-zero-line',null,'4,3');
series(hull_x,hull_y,f3ax,f3ay,'#2030e0',1.2,null,0,'cF3a','fig3a-hull-line',null,'4,3');
series(f3a_x,f3a_y,f3ax,f3ay,'#e02020',1.6,'circle',2.2,'cF3a','fig3a-compound-series');
f3aYTicks.forEach((v,i)=>{text(2383,f3ay(v)+5,f3aYLabels[i],14,'end','#222','fig3a-y-tick-label');tickMark(2387,f3ay(v),2391,f3ay(v),'fig3a-y-tick');});
f3aXTicks.forEach((v,i)=>{text(f3ax(v),219,f3aXLabels[i],14,'middle','#222','fig3a-x-tick-label');tickMark(f3ax(v),206,f3ax(v),202,'fig3a-x-tick');});
const f3aLab=[['H',2389,169],['H8O',2428,163],['H6O',2416,187],['H4O',2434,198],['H3O',2460,200],['H2O',2473,185],['HO',2530,177],['HO2',2602,163],['HO4',2624,110],['O',2698,166]];
f3aLab.forEach(e=>text(e[1],e[2],e[0],11,'start','#222','fig3a-compound-label'));
// ---- Fig 3b ----
series([0,0.3333],[0,0],f3bx,f3by,'#222',1,null,0,'cF3b','fig3b-zero-line',null,'4,3');
const f3bSeries=[[p10,'#111','square'],[p20,'#f0a030','circle'],[p30,'#1a8a2a','up'],[p40,'#1a2ae0','down'],[p60,'#20e0f0','diamond'],[p80,'#8a1a1a','left'],[p100,'#ff3030','right'],[p120,'#8a8a20','circle'],[p140,'#1a2a9a','star'],[p160,'#888','circle'],[p180,'#7a1a8a','pent']];
f3bSeries.forEach((s,i)=>{series(frac_x,s[0],f3bx,f3by,s[1],1.4,s[2],3.8,'cF3b','fig3b-series-'+pressures[i]+'mbar',i===10?s[1]:'#fff');});
f3bYTicks.forEach((v,i)=>{text(2383,f3by(v)+5,f3bYLabels[i],14,'end','#222','fig3b-y-tick-label');tickMark(2387,f3by(v),2391,f3by(v),'fig3b-y-tick');});
f3bXTicks.forEach((v,i)=>{text(f3bx(v),434,f3bXLabels[i],14,'middle','#222','fig3b-x-tick-label');tickMark(f3bx(v),421,f3bx(v),417,'fig3b-x-tick');});
const f3bLegPos=[[2395,359],[2395,372],[2395,384],[2395,396],[2395,409],[2446,346],[2446,359],[2446,372],[2446,384],[2446,396],[2446,409]];
f3bSeries.forEach((s,i)=>{
  const p=f3bLegPos[i];
  tickMark(p[0],p[1],p[0]+22,p[1],'fig3b-legend-line');
  svg.lastChild.setAttribute('stroke',s[1]);
  const m=shapeEl(s[2],p[0]+11,p[1],4,s[1],i===10?s[1]:'#fff');
  
  
  text(p[0]+25,p[1]+4.5,pressures[i],12,'start','#222','fig3b-legend-entry');
});
text(2390,279,'H',12,'start','#222','fig3b-label-h');
text(2693,282,'H2O',12,'start','#222','fig3b-label-h2o');
text(2565,232,'H4O',12,'start','#222','fig3b-label-h4o');
text(2612,388,'H3O',12,'start','#222','fig3b-label-h3o');

// ---- Fig 4 pictures (decorative) ----
for(let r=0;r<7;r++)for(let c=0;c<9;c++){
  const x=2347+c*21+(r%2)*9, y=574+r*22+((c%3)-1)*5;
  const red=((r+c)%4===1)&&r%3===0;
  atom(x,y,red?6:5.5,red?'#e01010':(r%2?'#b8bce8':'#5a60c0'),'h4o-atom');
}
for(let r=0;r<2;r++)for(let c=0;c<4;c++){atom(2372+c*45,597+r*60,6,'#e01010','h4o-o-atom');}
{const r=mk('rect',{x:2395,y:616,width:90,height:70,fill:'none',stroke:'#222'});}
for(let r=0;r<8;r++)for(let c=0;c<8;c++){
  const red=(r%2===0)&&(c%2===0);
  const b=mk('rect',{x:2554+c*20,y:572+r*19,width:red?10:14,height:red?18:12,fill:red?'#e02020':'#8088d8'});
  
  
  atom(2560+c*20,580+r*19,red?6:6.5,red?'#e01010':'#7078d0','h3o-atom');
}
{const r=mk('rect',{x:2592,y:630,width:70,height:72,fill:'none',stroke:'#111','stroke-width':1.5});}
</script>
</body></html>
